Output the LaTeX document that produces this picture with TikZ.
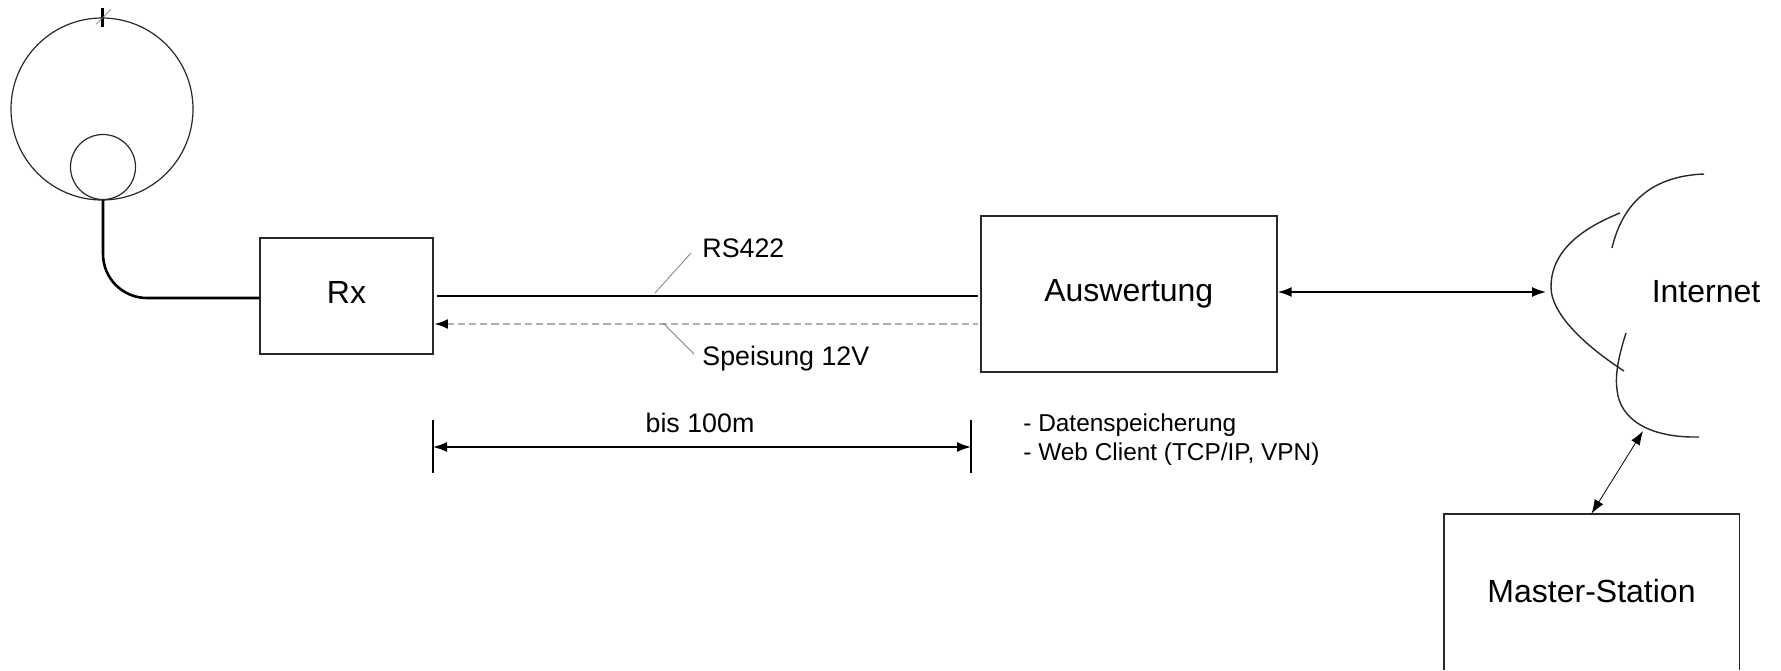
\documentclass[tikz,border=0pt]{standalone}
\usepackage{fontspec}
\setmainfont{Liberation Sans}
\usetikzlibrary{positioning,arrows.meta}
\definecolor{linegrey}{RGB}{40,40,40}
\definecolor{feedgrey}{RGB}{175,175,175}
\tikzset{
  mainbox/.style={draw=linegrey, line width=0.9pt, align=center, font=\fontsize{16}{19}\selectfont, inner sep=0pt},
  smalltext/.style={font=\fontsize{13.4}{16}\selectfont, inner sep=0pt},
  ring/.style={draw=linegrey, circle, line width=0.6pt, inner sep=0pt},
  arrow/.style={{Latex[length=7pt,width=5pt]}-{Latex[length=7pt,width=5pt]}, line width=0.8pt, draw=black},
  leader/.style={draw=gray, line width=0.4pt}
}
\begin{document}
\begin{tikzpicture}[x=0.5pt, y=-0.5pt]
\useasboundingbox (0,0) rectangle (1781,670);
% antenna
\node[ring, minimum size=91pt] (dish) at (102,109) {};
\node[ring, minimum size=32.5pt] (feed) at (103,167) {};
\draw[line width=1.5pt] (dish.north) ++(0,-9) -- ++(0,19);
\draw[gray, line width=0.3pt] (dish.north) ++(-6,7) -- ++(15,-15);
% boxes
\node[mainbox, minimum width=86.5pt, minimum height=58pt] (rx) at (346.5,296) {\raisebox{3.8pt}{Rx}};
\node[mainbox, minimum width=148pt, minimum height=78pt, right=273pt of rx, yshift=1pt] (auswertung) {\raisebox{2pt}{Auswertung}};
\node[font=\fontsize{16}{19}\selectfont, minimum width=147.5pt, minimum height=78pt, inner sep=0pt] (master) at (1591.5,592) {\raisebox{1pt}{Master-Station}};
\draw[draw=linegrey, line width=0.9pt] (master.south west) -- (master.north west) -- (master.north east) -- (master.south east);
\node[font=\fontsize{16}{19}\selectfont, inner sep=0pt] (internet) at (1706,292) {Internet};
% cloud
\draw[linegrey, line width=0.7pt] (1620,213) .. controls (1580,229) and (1551,252) .. (1551,287) .. controls (1551,316) and (1590,349) .. (1624,371);
\draw[linegrey, line width=0.7pt] (1612,248) .. controls (1622,205) and (1650,176) .. (1704,174);
\draw[linegrey, line width=0.7pt] (1626,333) .. controls (1618,358) and (1615,375) .. (1617,390) .. controls (1620,420) and (1650,438) .. (1699,437);
\coordinate (cloudleft) at (1546,292);
\coordinate (cloudbottom) at (1643,431);
% cable and lines
\draw[black, line width=1.3pt, rounded corners=22pt] (feed.south) |- ([yshift=-1pt]rx.west);
\draw[black, line width=0.9pt] ([xshift=1.5pt]rx.east) -- ([xshift=-1pt,yshift=-1pt]auswertung.west);
\draw[feedgrey, line width=1.4pt, dash pattern=on 3.6pt off 2pt, {Latex[length=7pt,width=5pt,black]}-] ([yshift=-14pt]rx.east) -- ([xshift=-1pt,yshift=-15pt]auswertung.west);
\draw[arrow] (auswertung.east |- cloudleft) -- (cloudleft);
\draw[arrow, line width=0.4pt] (cloudbottom) -- (master.north);
% labels
\node[smalltext, anchor=west] (rslabel) at (702,248) {RS422};
\node[smalltext, anchor=west] (feedlabel) at (702,359) {Speisung 12V};
\coordinate (rsend) at (655,293);
\coordinate (feedend) at (663,323);
\draw[leader] (rslabel.west) ++(-11,5) -- (rsend);
\draw[leader] (feedlabel.west) ++(-8,-5) -- (feedend);
% dimension
\coordinate (dimleft) at (433,447);
\coordinate (dimright) at (971,447);
\foreach \a in {dimleft,dimright}{\draw[line width=0.7pt] (\a) ++(0,-27) -- ++(0,53);}
\draw[arrow] (dimleft) -- node[smalltext, above=6.5pt, xshift=-1pt] (dimlabel) {bis 100m} (dimright);
\node[font=\fontsize{12.2}{14.5}\selectfont, align=left, anchor=north west, inner sep=0pt] (notes) at (1023,413) {- Datenspeicherung\\- Web Client (TCP/IP, VPN)};
\end{tikzpicture}
\end{document}
